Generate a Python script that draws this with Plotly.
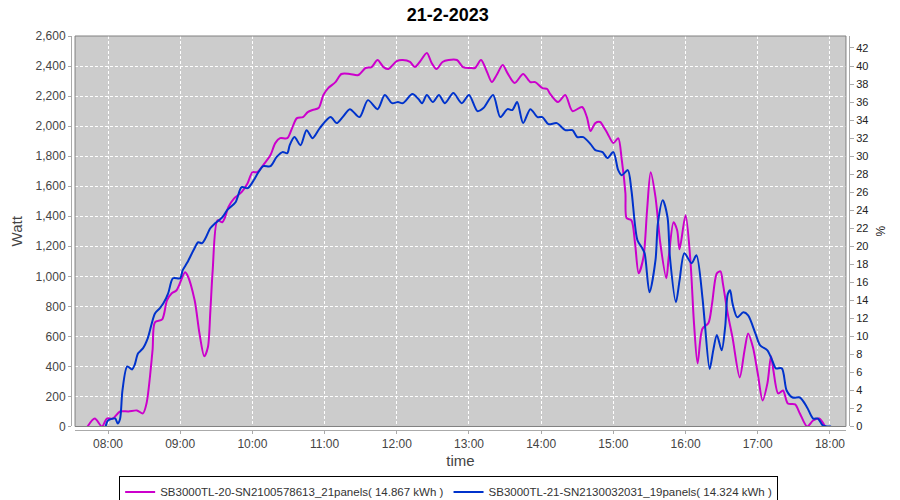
import plotly.graph_objects as go

DATE = "2023-02-21 "

# SB3000TL-20 (magenta) readings: time, Watt
mag_times = ["07:43", "07:49", "07:55", "07:59", "08:04", "08:10", "08:17", "08:24", "08:29", "08:32",
             "08:37", "08:39", "08:45", "08:49", "08:53", "08:57", "09:04", "09:06", "09:12", "09:16",
             "09:20", "09:23", "09:25", "09:27", "09:31", "09:35", "09:37", "09:40", "09:45", "09:51",
             "09:56", "10:00", "10:04", "10:09", "10:15", "10:19", "10:23", "10:29", "10:33", "10:37",
             "10:42", "10:46", "10:50", "10:55", "10:59", "11:03", "11:09", "11:14", "11:21", "11:28",
             "11:34", "11:39", "11:44", "11:49", "11:53", "12:00", "12:05", "12:11", "12:15", "12:19",
             "12:25", "12:29", "12:33", "12:38", "12:43", "12:50", "12:55", "13:01", "13:05", "13:10",
             "13:15", "13:19", "13:23", "13:28", "13:32", "13:38", "13:45", "13:51", "13:55", "14:01",
             "14:05", "14:07", "14:14", "14:20", "14:26", "14:34", "14:38", "14:41", "14:45", "14:49",
             "14:51", "14:55", "15:00", "15:04", "15:07", "15:10", "15:11", "15:15", "15:18", "15:21",
             "15:25", "15:28", "15:31", "15:35", "15:39", "15:44", "15:46", "15:50", "15:53", "15:55",
             "16:00", "16:04", "16:07", "16:10", "16:14", "16:19", "16:22", "16:26", "16:29", "16:31",
             "16:35", "16:39", "16:45", "16:49", "16:52", "16:56", "17:00", "17:04", "17:08", "17:11",
             "17:13", "17:17", "17:21", "17:25", "17:31", "17:35", "17:41", "17:46", "17:51", "17:56"]
mag_watts = [0, 53, 0, 53, 53, 100, 100, 107, 87, 153,
             507, 693, 713, 840, 887, 907, 1027, 1007, 840, 620,
             467, 527, 760, 1040, 1373, 1360, 1387, 1460, 1520, 1560,
             1620, 1693, 1693, 1740, 1807, 1887, 1920, 1920, 1987, 2053,
             2060, 2093, 2107, 2120, 2207, 2253, 2293, 2347, 2347, 2340,
             2387, 2393, 2440, 2393, 2380, 2433, 2440, 2427, 2393, 2427,
             2487, 2420, 2380, 2427, 2440, 2440, 2393, 2387, 2387, 2440,
             2360, 2293, 2340, 2407, 2353, 2287, 2347, 2293, 2293, 2253,
             2247, 2220, 2160, 2207, 2100, 2127, 2060, 1967, 2020, 2027,
             2007, 1953, 1887, 1920, 1773, 1553, 1387, 1373, 1220, 1020,
             1127, 1440, 1693, 1527, 1220, 987, 1127, 1360, 1307, 1180,
             1407, 1107, 687, 420, 651, 689, 818, 1020, 1033, 953,
             753, 593, 327, 507, 620, 527, 353, 173, 287, 467,
             373, 220, 240, 153, 147, 87, 0, 40, 53, 0]

# SB3000TL-21 (blue) readings: time, Watt
blue_times = ["07:58", "08:00", "08:06", "08:08", "08:10", "08:12", "08:16", "08:20", "08:22", "08:25",
              "08:29", "08:33", "08:39", "08:43", "08:46", "08:50", "08:54", "09:00", "09:02", "09:06",
              "09:11", "09:15", "09:18", "09:21", "09:25", "09:29", "09:35", "09:39", "09:46", "09:51",
              "09:56", "10:00", "10:05", "10:09", "10:15", "10:20", "10:25", "10:29", "10:31", "10:35",
              "10:40", "10:45", "10:50", "10:56", "11:05", "11:10", "11:15", "11:21", "11:29", "11:36",
              "11:44", "11:50", "11:56", "12:01", "12:05", "12:13", "12:18", "12:21", "12:25", "12:30",
              "12:35", "12:40", "12:47", "12:54", "13:00", "13:07", "13:12", "13:20", "13:26", "13:32",
              "13:36", "13:40", "13:45", "13:51", "13:57", "14:01", "14:06", "14:13", "14:20", "14:26",
              "14:30", "14:35", "14:41", "14:45", "14:51", "14:55", "15:00", "15:04", "15:07", "15:12",
              "15:15", "15:20", "15:24", "15:26", "15:30", "15:35", "15:37", "15:41", "15:45", "15:47",
              "15:52", "15:55", "15:59", "16:05", "16:09", "16:14", "16:16", "16:20", "16:23", "16:26",
              "16:30", "16:33", "16:35", "16:37", "16:39", "16:43", "16:48", "16:52", "16:58", "17:02",
              "17:08", "17:12", "17:15", "17:20", "17:24", "17:29", "17:35", "17:41", "17:46", "17:50",
              "17:54", "17:58", "18:01"]
blue_watts = [0, 40, 53, 20, 50, 240, 400, 380, 407, 487,
              520, 587, 753, 787, 820, 887, 987, 987, 1040, 1093,
              1173, 1227, 1220, 1253, 1320, 1353, 1393, 1440, 1493, 1593,
              1587, 1625, 1693, 1733, 1733, 1793, 1827, 1820, 1873, 1927,
              1873, 1973, 1920, 1987, 2060, 2020, 2060, 2113, 2060, 2173,
              2113, 2207, 2153, 2160, 2153, 2213, 2180, 2153, 2207, 2160,
              2207, 2153, 2220, 2153, 2207, 2100, 2120, 2207, 2060, 2113,
              2107, 2160, 2020, 2113, 2060, 2060, 2013, 2020, 1973, 1973,
              1927, 1927, 1880, 1840, 1827, 1787, 1827, 1707, 1673, 1707,
              1573, 1240, 1187, 1153, 893, 1107, 1353, 1507, 1393, 1127,
              827, 973, 1153, 1087, 1140, 860, 687, 383, 507, 610,
              507, 670, 880, 907, 820, 727, 760, 740, 620, 540,
              507, 440, 387, 387, 240, 193, 193, 127, 53, 53,
              7, 0, 0]

mag_name = "SB3000TL-20-SN2100578613_21panels( 14.867 kWh )"
blue_name = "SB3000TL-21-SN2130032031_19panels( 14.324 kWh )"
title_text = "21-2-2023"

FONT = "Liberation Sans, Arial, DejaVu Sans, sans-serif"
TXT = "#444444"
GRID_DASH = "3px,2px"

fig = go.Figure()
fig.add_trace(go.Scatter(
    x=[DATE + t for t in mag_times], y=mag_watts, name=mag_name, mode="lines",
    line=dict(color="#cc00cc", width=2, shape="spline", smoothing=0.8)))
fig.add_trace(go.Scatter(
    x=[DATE + t for t in blue_times], y=blue_watts, name=blue_name, mode="lines",
    line=dict(color="#0033cc", width=2, shape="spline", smoothing=0.8)))
# empty helper trace so the right-hand % axis is drawn
fig.add_trace(go.Scatter(
    x=[DATE + "12:00"], y=[None], yaxis="y2", mode="lines", showlegend=False, hoverinfo="skip"))

# page body has an 8px margin, so the figure is sized to fit the 900x500 window
fig.update_layout(
    width=892, height=492,
    margin=dict(l=63, r=51, t=28, b=70, autoexpand=False),
    paper_bgcolor="white", plot_bgcolor="#cccccc",
    font=dict(family=FONT, size=12, color=TXT),
    title=dict(text="<b>" + title_text + "</b>", x=0.493, xanchor="center", y=1,
               yanchor="top", yref="container", pad=dict(t=0, b=0),
               font=dict(size=18, color="#000000")),
    showlegend=True,
    legend=dict(orientation="h", xref="container", yref="container", x=0.494, xanchor="center",
                y=0.048, yanchor="top", bgcolor="white", bordercolor="#000000", borderwidth=1,
                font=dict(size=11.5, color="#333333"), itemwidth=30, tracegroupgap=0),
    xaxis=dict(type="date", domain=[0.0052, 0.9961], anchor="free", position=0,
               range=[DATE + "07:32:36", DATE + "18:13:18"],
               tick0=DATE + "08:00", dtick=3600000, tickformat="%H:%M",
               showgrid=True, gridcolor="white", griddash=GRID_DASH, gridwidth=1,
               showline=True, linecolor="#aaaaaa", linewidth=1,
               ticks="outside", ticklen=3, tickcolor="#aaaaaa",
               tickfont=dict(size=12, color=TXT),
               title=dict(text="time", font=dict(size=15, color=TXT), standoff=5),
               zeroline=False),
    yaxis=dict(domain=[0.0089, 1], anchor="free", position=0,
               range=[0, 2600], dtick=200, tickformat=",",
               showgrid=True, gridcolor="white", griddash=GRID_DASH, gridwidth=1,
               showline=True, linecolor="#aaaaaa", linewidth=1,
               ticks="outside", ticklen=3, tickcolor="#aaaaaa",
               tickfont=dict(size=12, color=TXT),
               title=dict(text="Watt", font=dict(size=15, color=TXT), standoff=8),
               zeroline=False),
    yaxis2=dict(overlaying="y", side="right", anchor="free", position=1,
                range=[0, 43.33], dtick=2, showgrid=False, zeroline=False,
                showline=True, linecolor="#aaaaaa", linewidth=1,
                ticks="outside", ticklen=4, tickcolor="#aaaaaa",
                tickfont=dict(size=11, color="#222222"),
                title=dict(text="%", font=dict(size=12, color="#222222"), standoff=9)),
    shapes=[dict(type="rect", xref="x domain", yref="y domain", x0=0, x1=1, y0=0, y1=1,
                 line=dict(color="#808080", width=1), fillcolor="rgba(0,0,0,0)", layer="above")],
)

fig.write_html("out.html")
